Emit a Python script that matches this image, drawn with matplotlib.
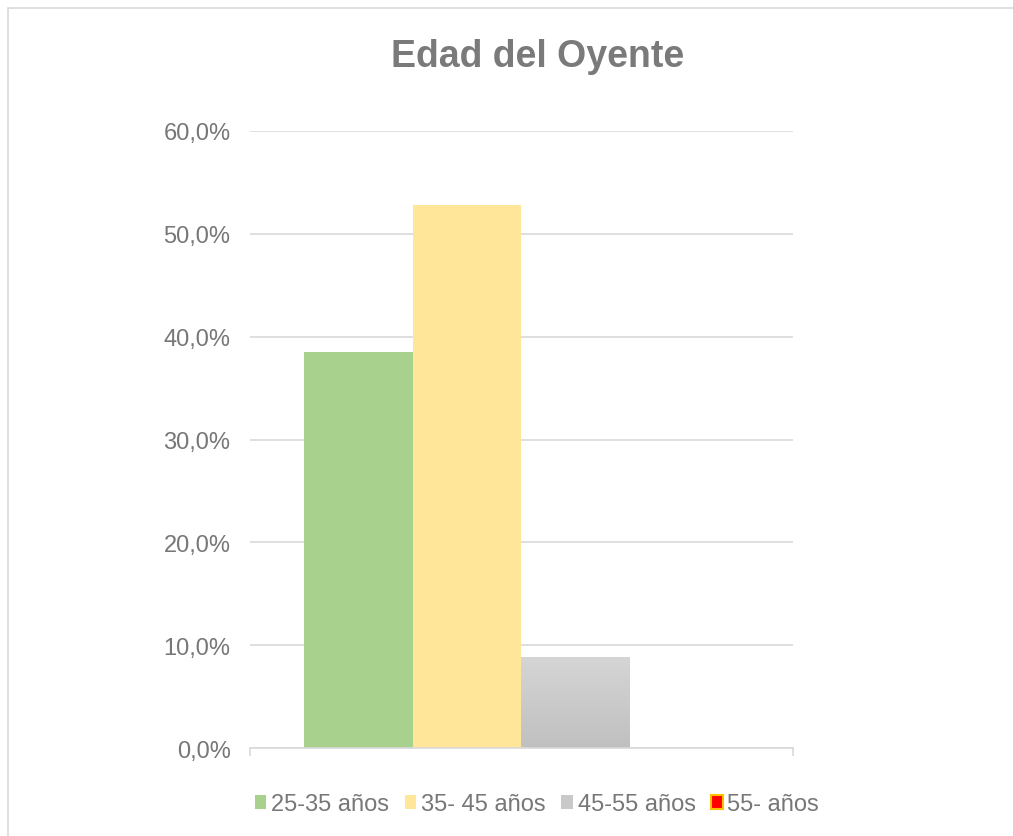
import matplotlib.pyplot as plt
import matplotlib.patches as mpatches
import numpy as np
from matplotlib.colors import LinearSegmentedColormap
from matplotlib.ticker import FuncFormatter

plt.rcParams['font.family'] = ['Liberation Sans', 'DejaVu Sans']

series = ["25-35 años", "35- 45 años", "45-55 años", "55- años"]
values = [38.5, 52.8, 8.8, 0.0]
colors = ["#a9d18e", "#ffe699", "#c9c9c9", "#ff0000"]

fig = plt.figure(figsize=(10.13, 8.37), dpi=100)
ax = fig.add_axes([0.2468, 0.1051, 0.536, 0.7372])

# outer chart border
fig.patches.append(mpatches.Rectangle((8 / 1013, -0.01), 1.02, 1 - 9 / 837 + 0.01,
                                      transform=fig.transFigure, fill=False,
                                      edgecolor="#d9d9d9", linewidth=1.2))

width = 0.2
x0 = -1.5 * width
bars = []
for i, (name, v, c) in enumerate(zip(series, values, colors)):
    b = ax.bar(x0 + i * width, v, width=width, color=c, label=name, zorder=2)
    bars.append(b[0])

# gradient on the grey bar
gb = bars[2]
gb.set_alpha(0)
grad = np.linspace(0, 1, 100).reshape(-1, 1)
cmap = LinearSegmentedColormap.from_list("g", ["#c0c0c0", "#d5d5d5"])
ax.imshow(grad, cmap=cmap, aspect="auto", origin="lower", zorder=2,
          extent=[gb.get_x(), gb.get_x() + gb.get_width(), 0, gb.get_height()])

ax.set_xlim(-0.5, 0.5)
ax.set_ylim(0, 60)
ax.set_yticks(np.arange(0, 61, 10))
ax.yaxis.set_major_formatter(FuncFormatter(lambda v, p: f"{v:.1f}%".replace(".", ",")))
ax.grid(axis="y", color="#d9d9d9", linewidth=1.2, zorder=0)
ax.set_axisbelow(True)
for s in ["top", "right", "left"]:
    ax.spines[s].set_visible(False)
ax.spines["bottom"].set_color("#d9d9d9")
ax.spines["bottom"].set_linewidth(1.2)
ax.set_xticks([-0.5, 0.5])
ax.set_xticklabels([])
ax.tick_params(axis="x", length=6, color="#d9d9d9", width=1.2)
ax.tick_params(axis="y", length=0, labelsize=17, labelcolor="#777777", pad=14)

fig.text(0.5305, 1 - 67 / 837, "Edad del Oyente", ha="center", va="baseline",
         fontsize=27, fontweight="bold", color="#7a7a7a")

handles = [mpatches.Patch(facecolor=colors[0]),
           mpatches.Patch(facecolor=colors[1]),
           mpatches.Patch(facecolor="#c9c9c9"),
           mpatches.Patch(facecolor=colors[3], edgecolor="#ffc000", linewidth=1.5)]
leg = fig.legend(handles, series, loc="center", bbox_to_anchor=(0.5300, 0.038), ncol=4,
                 frameon=False, fontsize=17, handlelength=0.5, handleheight=0.5,
                 handletextpad=0.2, columnspacing=0.65)
for t in leg.get_texts():
    t.set_color("#777777")

fig.savefig("out.png", dpi=100, facecolor="white")
